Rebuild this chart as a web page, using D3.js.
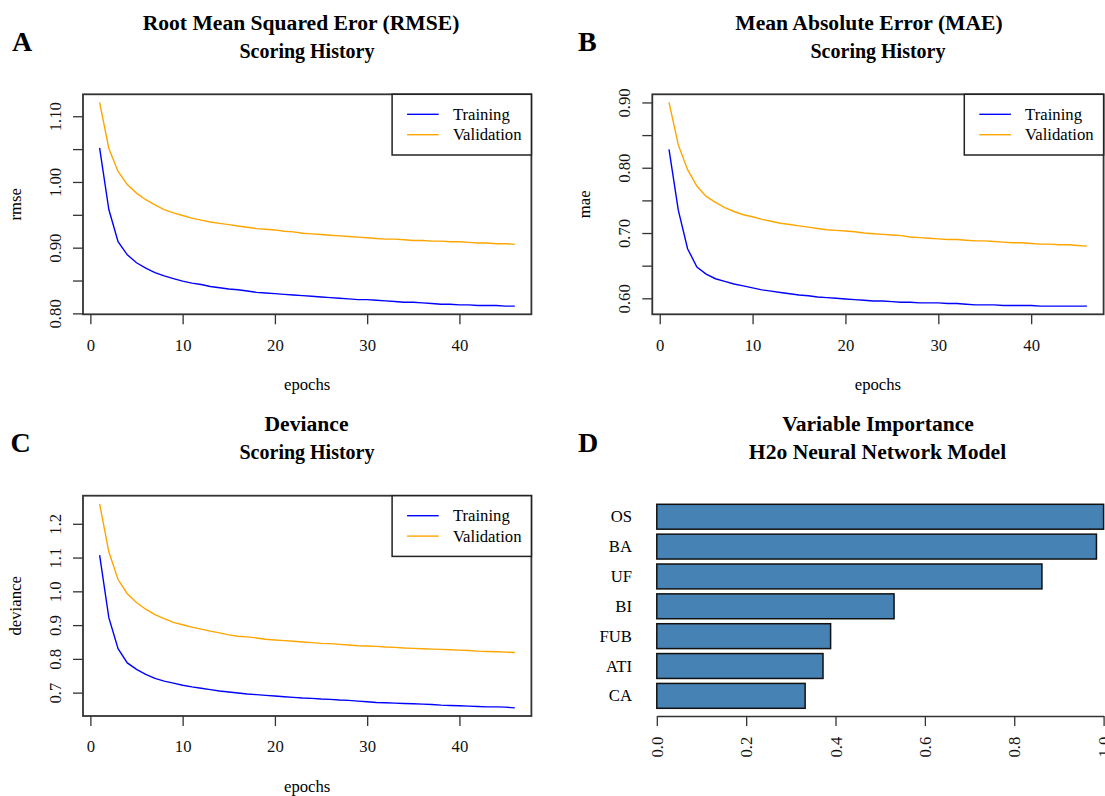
<!DOCTYPE html>
<html>
<head>
<meta charset="utf-8">
<script src="https://cdn.jsdelivr.net/npm/d3@7"></script>
<style>
  body { margin: 0; background: #fff; }
  svg { font-family: "Liberation Serif", "Times New Roman", serif; }
  .ttl { font-weight: bold; font-size: 20px; }
  .ttl.big { font-size: 21.6px; }
  .letter { font-weight: bold; font-size: 28px; }
  .lab { font-size: 16.7px; }
  .axis text { font-size: 16.7px; font-family: "Liberation Serif", "Times New Roman", serif; fill: #111; }
  .axis path, .axis line { stroke: #333; stroke-width: 1.3; }
</style>
</head>
<body>
<div class="vis-holder"></div>
<script>
// epochs of the h2o scoring history
var epochs = [1, 2, 3, 4, 5, 6, 7, 8, 9, 10, 11, 12, 13, 14, 15, 16, 17, 18, 19, 20, 21, 22, 23,
              24, 25, 26, 27, 28, 29, 30, 31, 32, 33, 34, 35, 36, 37, 38, 39, 40, 41, 42, 43, 44, 45, 46];

// RMSE
var rmseTraining = [1.052, 0.958, 0.909, 0.889, 0.877, 0.869, 0.862, 0.857, 0.853, 0.849, 0.846, 0.844,
                    0.841, 0.839, 0.837, 0.836, 0.834, 0.832, 0.831, 0.830, 0.829, 0.828, 0.827, 0.826,
                    0.825, 0.824, 0.823, 0.822, 0.821, 0.821, 0.820, 0.819, 0.818, 0.817, 0.817, 0.816,
                    0.815, 0.814, 0.814, 0.813, 0.813, 0.812, 0.812, 0.812, 0.811, 0.811];
var rmseValidation = [1.121, 1.051, 1.016, 0.996, 0.983, 0.973, 0.965, 0.958, 0.953, 0.949, 0.945, 0.942,
                      0.939, 0.937, 0.935, 0.933, 0.931, 0.929, 0.928, 0.927, 0.925, 0.924, 0.922, 0.921,
                      0.920, 0.919, 0.918, 0.917, 0.916, 0.915, 0.914, 0.913, 0.913, 0.912, 0.911, 0.911,
                      0.910, 0.910, 0.909, 0.909, 0.908, 0.907, 0.907, 0.906, 0.906, 0.905];

// MAE
var maeTraining = [0.828, 0.735, 0.676, 0.648, 0.637, 0.630, 0.626, 0.622, 0.619, 0.616, 0.613, 0.611,
                   0.609, 0.607, 0.605, 0.604, 0.602, 0.601, 0.600, 0.599, 0.598, 0.597, 0.596, 0.596,
                   0.595, 0.594, 0.594, 0.593, 0.593, 0.593, 0.592, 0.592, 0.591, 0.590, 0.590, 0.590,
                   0.589, 0.589, 0.589, 0.589, 0.588, 0.588, 0.588, 0.588, 0.588, 0.588];
var maeValidation = [0.900, 0.835, 0.797, 0.772, 0.756, 0.747, 0.739, 0.733, 0.728, 0.725, 0.721, 0.718,
                     0.715, 0.713, 0.711, 0.709, 0.707, 0.705, 0.704, 0.703, 0.702, 0.700, 0.699, 0.698,
                     0.697, 0.696, 0.694, 0.693, 0.692, 0.691, 0.690, 0.690, 0.689, 0.688, 0.688, 0.687,
                     0.686, 0.685, 0.685, 0.684, 0.683, 0.683, 0.682, 0.682, 0.681, 0.680];

// Deviance
var devTraining = [1.107, 0.922, 0.830, 0.788, 0.769, 0.754, 0.742, 0.734, 0.728, 0.722, 0.717, 0.713,
                   0.709, 0.705, 0.702, 0.699, 0.696, 0.694, 0.692, 0.690, 0.688, 0.686, 0.684, 0.683,
                   0.681, 0.680, 0.678, 0.677, 0.675, 0.673, 0.671, 0.670, 0.669, 0.668, 0.667, 0.666,
                   0.665, 0.663, 0.662, 0.661, 0.660, 0.659, 0.658, 0.658, 0.657, 0.655];
var devValidation = [1.259, 1.117, 1.035, 0.993, 0.967, 0.947, 0.931, 0.919, 0.908, 0.901, 0.894, 0.888,
                     0.882, 0.877, 0.871, 0.867, 0.865, 0.862, 0.858, 0.856, 0.854, 0.852, 0.850, 0.848,
                     0.846, 0.845, 0.843, 0.841, 0.839, 0.838, 0.837, 0.835, 0.834, 0.832, 0.831, 0.830,
                     0.829, 0.828, 0.827, 0.826, 0.825, 0.823, 0.822, 0.821, 0.820, 0.819];

// variable importance
var varNames = ["OS", "BA", "UF", "BI", "FUB", "ATI", "CA"];
var varImportance = [1.0, 0.984, 0.862, 0.531, 0.389, 0.372, 0.332];

// legend + ticks
var seriesNames = ["Training", "Validation"];
var epochTicks = [0, 10, 20, 30, 40];
var rmseTicks = [0.80, 0.85, 0.90, 0.95, 1.00, 1.05, 1.10];
var rmseTickLabels = ["0.80", "", "0.90", "", "1.00", "", "1.10"];
var maeTicks = [0.60, 0.65, 0.70, 0.75, 0.80, 0.85, 0.90];
var maeTickLabels = ["0.60", "", "0.70", "", "0.80", "", "0.90"];
var devTicks = [0.7, 0.8, 0.9, 1.0, 1.1, 1.2];
var devTickLabels = ["0.7", "0.8", "0.9", "1.0", "1.1", "1.2"];
var impTicks = [0.0, 0.2, 0.4, 0.6, 0.8, 1.0];
var impTickLabels = ["0.0", "0.2", "0.4", "0.6", "0.8", "1.0"];

var seriesColors = ["#0000ff", "#ffa500"];
var serif = "'Liberation Serif', 'Times New Roman', serif";
var width = 1105, height = 796;

var svg = d3.select(".vis-holder")
            .append("svg")
            .attr("width", width)
            .attr("height", height);

// R style axis padding (4% each side)
function padded(vals) {
  var ext = d3.extent(vals);
  var p = (ext[1] - ext[0]) * 0.04;
  return [ext[0] - p, ext[1] + p];
}

function scoringPanel(cfg) {
  var g = svg.append("g");

  var xScale = d3.scaleLinear()
                 .domain(padded(epochs))
                 .range([cfg.left, cfg.right]);
  var yScale = d3.scaleLinear()
                 .domain(padded(cfg.training.concat(cfg.validation)))
                 .range([cfg.bottom, cfg.top]);

  // x axis
  var xAxis = g.append("g")
               .attr("class", "axis")
               .attr("transform", "translate(0," + cfg.bottom + ")")
               .call(d3.axisBottom(xScale).tickValues(epochTicks).tickSize(10).tickSizeOuter(0));
  xAxis.attr("font-family", serif);
  xAxis.select(".domain").remove();
  xAxis.selectAll("text").attr("y", 0).attr("dy", 0).attr("transform", "translate(0,36.4)");

  // y axis with rotated labels
  var yAxis = g.append("g")
               .attr("class", "axis")
               .attr("transform", "translate(" + cfg.left + ",0)")
               .call(d3.axisLeft(yScale).tickValues(cfg.ticks).tickSize(10).tickSizeOuter(0)
                       .tickFormat(function(d, i) { return cfg.tickLabels[i]; }));
  yAxis.attr("font-family", serif);
  yAxis.select(".domain").remove();
  yAxis.selectAll("text")
       .attr("x", 0).attr("dy", 0).attr("y", -22.5)
       .attr("text-anchor", "middle")
       .attr("transform", "rotate(-90)");

  // lines
  var series = [cfg.training, cfg.validation];
  var line = d3.line()
               .x(function(d, i) { return xScale(epochs[i]); })
               .y(function(d) { return yScale(d); });
  g.selectAll(".dataLine")
   .data(series)
   .enter()
   .append("path")
   .attr("class", "dataLine")
   .attr("d", line)
   .attr("fill", "none")
   .attr("stroke", function(d, i) { return seriesColors[i]; })
   .attr("stroke-width", 1.4);

  // box
  g.append("rect")
   .attr("x", cfg.left).attr("y", cfg.top)
   .attr("width", cfg.right - cfg.left).attr("height", cfg.bottom - cfg.top)
   .attr("fill", "none").attr("stroke", "#333").attr("stroke-width", 1.8);

  // legend
  var lx = cfg.right - 139.3;
  g.append("rect")
   .attr("x", lx).attr("y", cfg.top)
   .attr("width", 139.3).attr("height", 60.7)
   .attr("fill", "#fff").attr("stroke", "#222").attr("stroke-width", 1.5);
  var item = g.selectAll(".leg")
              .data(seriesNames)
              .enter()
              .append("g")
              .attr("transform", function(d, i) { return "translate(" + lx + "," + (cfg.top + 20 + i * 20.4) + ")"; });
  item.append("line")
      .attr("x1", 15).attr("x2", 46.6)
      .attr("stroke", function(d, i) { return seriesColors[i]; })
      .attr("stroke-width", 1.4);
  item.append("text")
      .attr("class", "lab")
      .attr("x", 60.8).attr("y", 5.6)
      .text(function(d) { return d; });

  // labels
  g.append("text").attr("class", "lab").attr("text-anchor", "middle")
   .attr("x", (cfg.left + cfg.right) / 2).attr("y", cfg.bottom + 76)
   .text("epochs");
  g.append("text").attr("class", "lab").attr("text-anchor", "middle")
   .attr("transform", "translate(" + (cfg.left - 62.3) + "," + ((cfg.top + cfg.bottom) / 2) + ")rotate(-90)")
   .text(cfg.ylab);

  titles(cfg);
}

function titles(cfg) {
  svg.append("text").attr("class", "ttl big").attr("text-anchor", "middle")
     .attr("x", cfg.title1X).attr("y", cfg.titleY).text(cfg.title1);
  svg.append("text").attr("class", cfg.big2 ? "ttl big" : "ttl").attr("text-anchor", "middle")
     .attr("x", cfg.title2X).attr("y", cfg.titleY + 28).text(cfg.title2);
  svg.append("text").attr("class", "letter")
     .attr("x", cfg.letterX).attr("y", cfg.titleY + 20.5).text(cfg.letter);
}

scoringPanel({left: 83, right: 531.4, top: 94.3, bottom: 314.3,
  training: rmseTraining, validation: rmseValidation,
  ticks: rmseTicks, tickLabels: rmseTickLabels, ylab: "rmse",
  title1: "Root Mean Squared Eror (RMSE)", title2: "Scoring History",
  title1X: 301, title2X: 307, titleY: 30, letter: "A", letterX: 12});

scoringPanel({left: 652.3, right: 1103.6, top: 94.3, bottom: 314.3,
  training: maeTraining, validation: maeValidation,
  ticks: maeTicks, tickLabels: maeTickLabels, ylab: "mae",
  title1: "Mean Absolute Error (MAE)", title2: "Scoring History",
  title1X: 869, title2X: 878, titleY: 30, letter: "B", letterX: 578});

scoringPanel({left: 83, right: 531.4, top: 495.7, bottom: 716,
  training: devTraining, validation: devValidation,
  ticks: devTicks, tickLabels: devTickLabels, ylab: "deviance",
  title1: "Deviance", title2: "Scoring History",
  title1X: 306.5, title2X: 307, titleY: 431, letter: "C", letterX: 10.5});

// panel D: variable importance bar chart
(function() {
  var xScale = d3.scaleLinear()
                 .domain([0, 1])
                 .range([656.8, 1103.6]);
  var yScale = d3.scaleBand()
                 .domain(varNames)
                 .range([504.3, 708.3])
                 .paddingInner(0.2 / 1.2)
                 .paddingOuter(0);

  svg.append("g")
     .selectAll("rect")
     .data(varImportance)
     .enter()
     .append("rect")
     .attr("x", xScale(0))
     .attr("y", function(d, i) { return yScale(varNames[i]); })
     .attr("width", function(d) { return xScale(d) - xScale(0); })
     .attr("height", yScale.bandwidth())
     .attr("fill", "#4682b4")
     .attr("stroke", "#111")
     .attr("stroke-width", 1.5);

  svg.append("g")
     .selectAll("text")
     .data(varNames)
     .enter()
     .append("text")
     .attr("class", "lab")
     .attr("text-anchor", "end")
     .attr("x", 632)
     .attr("y", function(d) { return yScale(d) + yScale.bandwidth() / 2 + 5.6; })
     .text(function(d) { return d; });

  // the last tick label is clipped by the page edge, as in the original figure
  var xAxis = svg.append("g")
                 .attr("class", "axis")
                 .attr("transform", "translate(0,716)")
                 .call(d3.axisBottom(xScale).tickValues(impTicks).tickSize(10).tickSizeOuter(0)
                         .tickFormat(function(d, i) { return impTickLabels[i]; }));
  xAxis.attr("font-family", serif);
  xAxis.selectAll("text")
       .attr("x", -20.7).attr("y", 5.6).attr("dy", 0)
       .attr("text-anchor", "end")
       .attr("transform", "rotate(-90)");

  titles({title1: "Variable Importance", title2: "H2o Neural Network Model", big2: true,
          title1X: 878, title2X: 877.5, titleY: 431, letter: "D", letterX: 578});
})();
</script>
</body>
</html>
